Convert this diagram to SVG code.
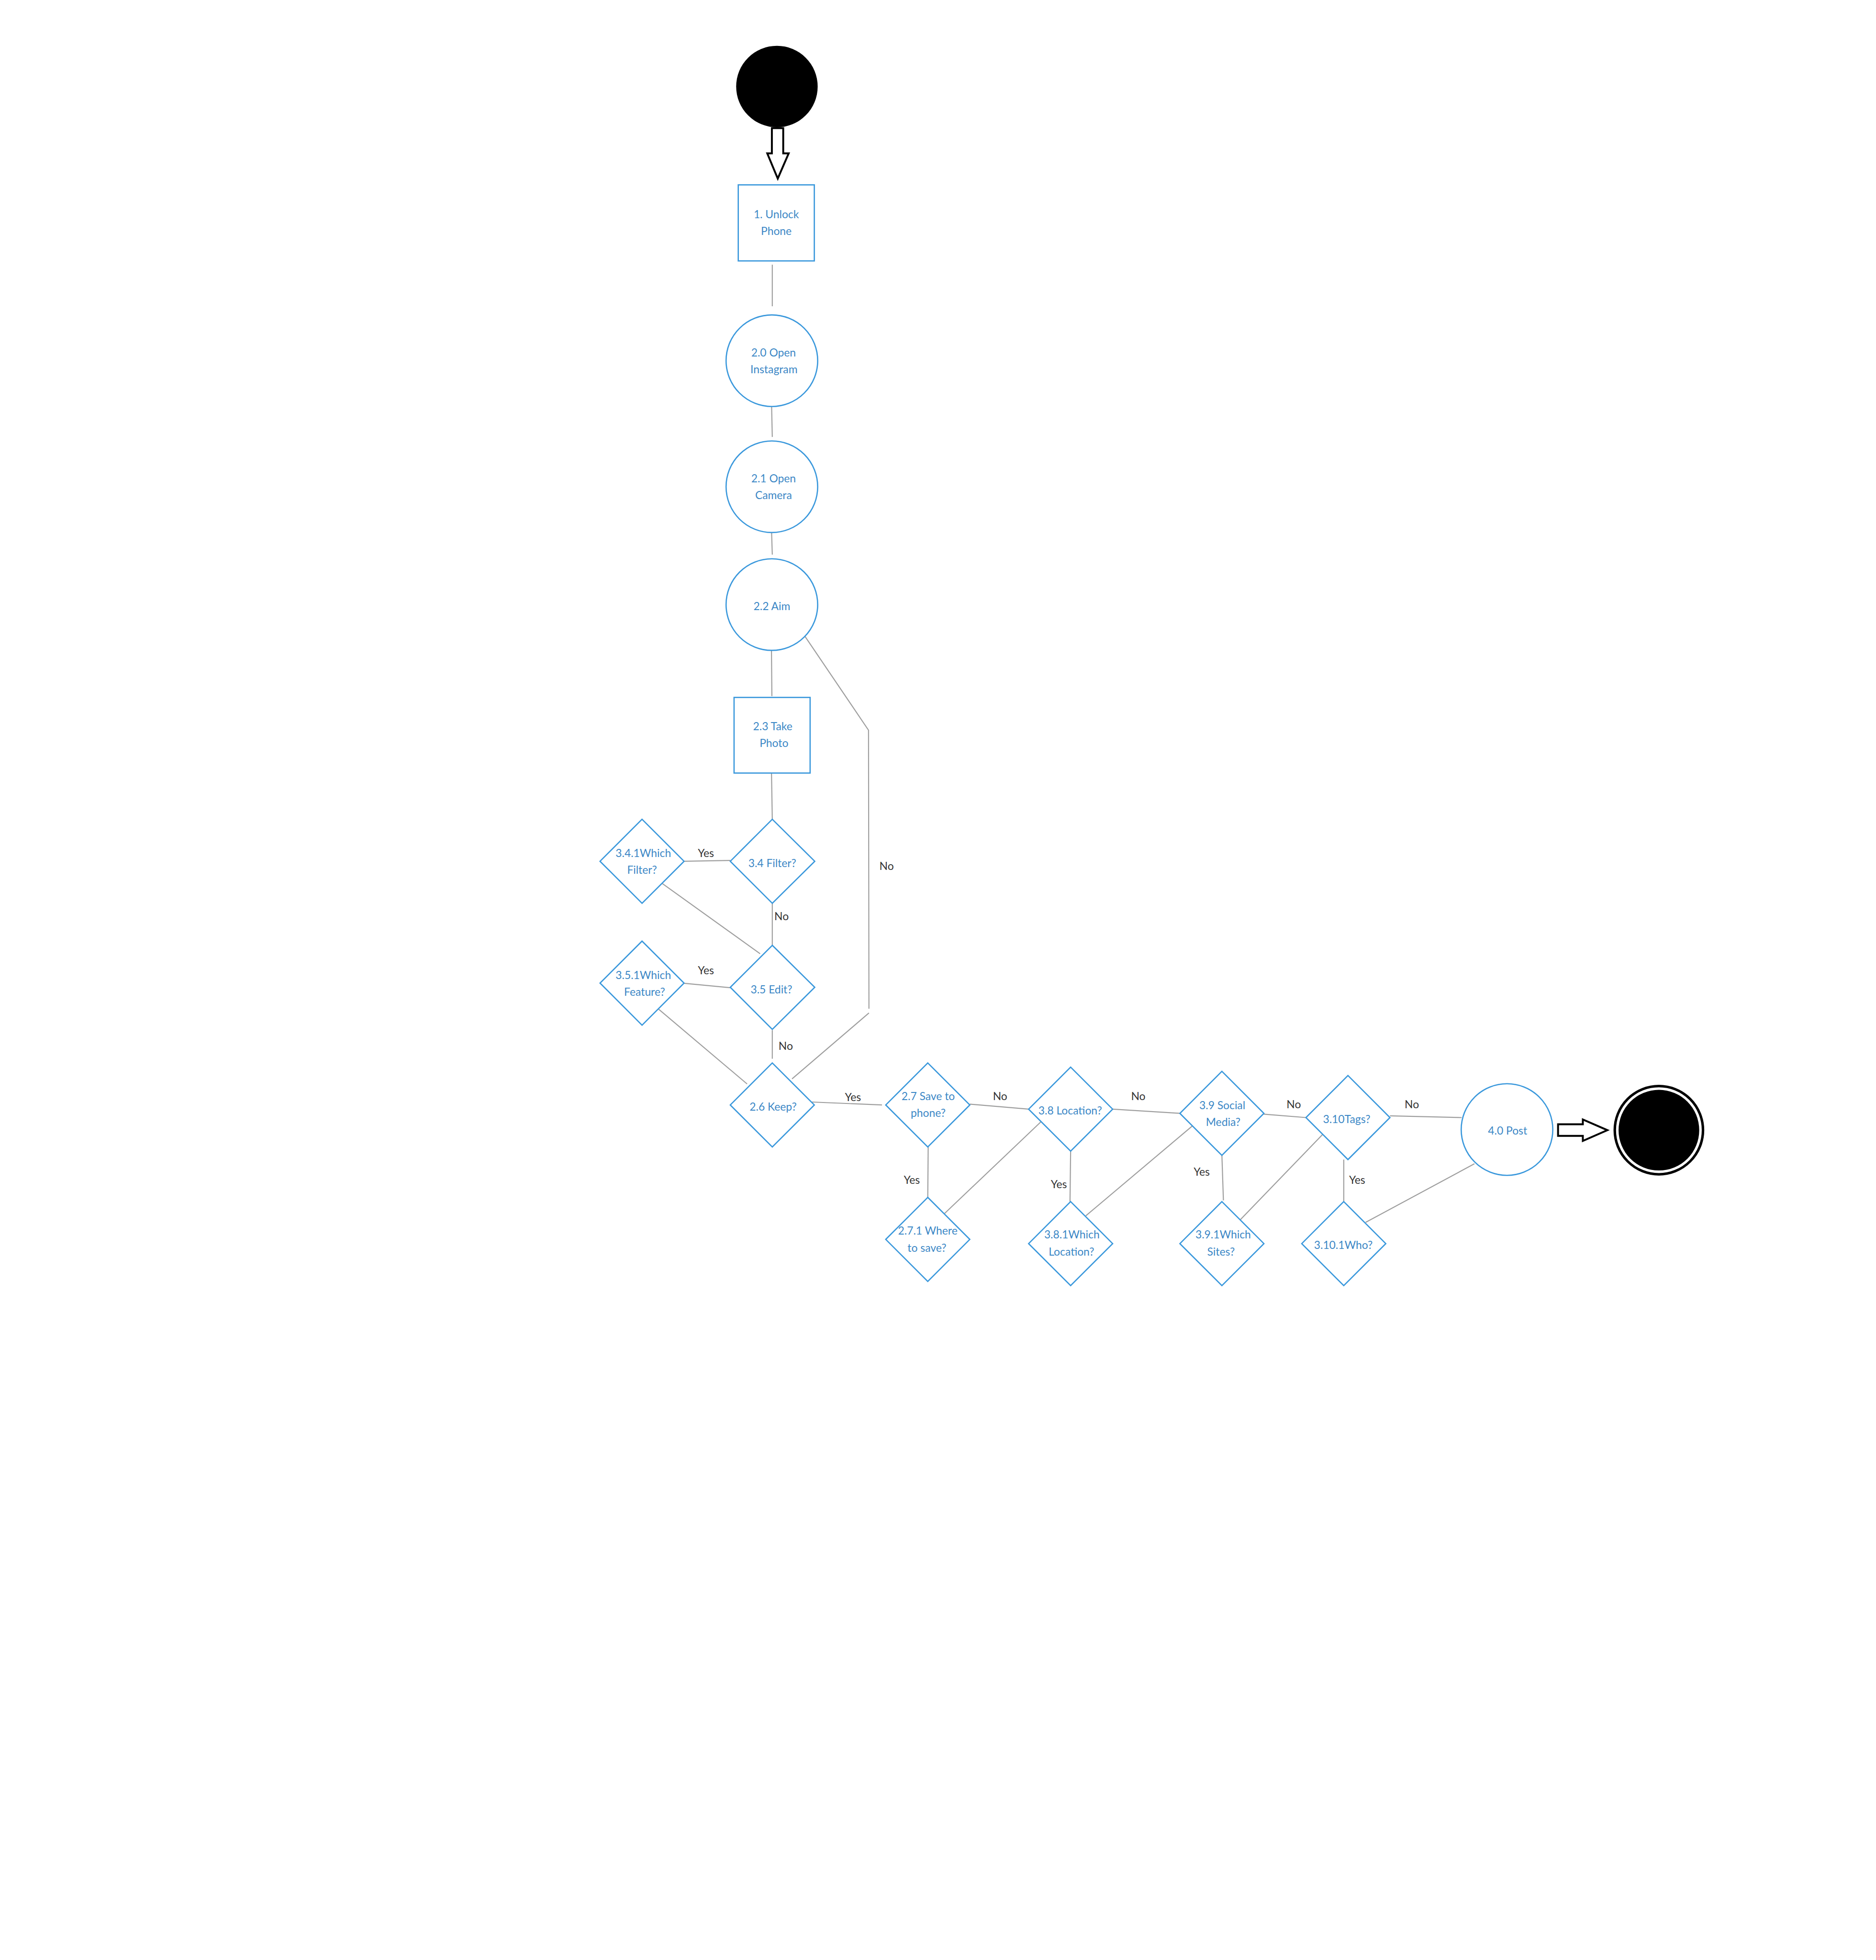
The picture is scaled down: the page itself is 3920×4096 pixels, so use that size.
<svg xmlns="http://www.w3.org/2000/svg" width="3920" height="4096" viewBox="0 0 3920 4096">
<style>
.n{fill:#fff;stroke:#3a98dc;stroke-width:3}
.t{font-family:Lato,"Open Sans","Liberation Sans",sans-serif;font-size:26px;fill:#3b87c6;text-anchor:middle}
.c{fill:none;stroke:#9e9e9e;stroke-width:2.5}
.l{font-family:Lato,"Open Sans","Liberation Sans",sans-serif;font-size:26px;fill:#333;text-anchor:middle}
.b{fill:#000}
.a{fill:#fff;stroke:#000;stroke-width:4.5;stroke-linejoin:miter}
</style>
<rect width="3920" height="4096" fill="#fff"/>
<g transform="scale(0.878)">
<g id="connectors">
<path class="c" d="M1838,630 L1838,729"/>
<path class="c" d="M1836,952 L1838,1040"/>
<path class="c" d="M1836,1258 L1838,1320"/>
<path class="c" d="M1836,1545 L1837,1657"/>
<path class="c" d="M1910,1506 L2067,1738 L2068,2401"/>
<path class="c" d="M2068,2411 L1885,2568"/>
<text class="l" x="2110" y="2071">No</text>
<path class="c" d="M1836,1835 L1838,1950"/>
<path class="c" d="M1628,2050 L1738,2048"/>
<text class="l" x="1680" y="2040">Yes</text>
<path class="c" d="M1575,2102 L1809,2270"/>
<path class="c" d="M1838,2150 L1838,2250"/>
<text class="l" x="1860" y="2190">No</text>
<path class="c" d="M1628,2340.5 L1738,2351"/>
<text class="l" x="1680" y="2319">Yes</text>
<path class="c" d="M1565,2400 L1778,2580"/>
<path class="c" d="M1838,2452 L1838,2520"/>
<text class="l" x="1870" y="2499">No</text>
<path class="c" d="M1932,2623 L2099,2630"/>
<text class="l" x="2030" y="2621">Yes</text>
<path class="c" d="M2308,2628 L2448,2640"/>
<text class="l" x="2380" y="2619">No</text>
<path class="c" d="M2209,2730 L2208,2850"/>
<text class="l" x="2170" y="2818">Yes</text>
<path class="c" d="M2244,2892 L2478,2669.5"/>
<path class="c" d="M2648,2640 L2808,2650"/>
<text class="l" x="2709" y="2619">No</text>
<path class="c" d="M2548,2739 L2546.5,2860"/>
<text class="l" x="2520" y="2828">Yes</text>
<path class="c" d="M2584,2894 L2837.5,2680"/>
<path class="c" d="M2908,2749.5 L2911.6,2857"/>
<text class="l" x="2860" y="2798">Yes</text>
<path class="c" d="M3007.6,2652 L3108.5,2660"/>
<text class="l" x="3079" y="2638">No</text>
<path class="c" d="M2951,2904 L3148,2700"/>
<path class="c" d="M3198,2760 L3198,2860"/>
<text class="l" x="3230" y="2818">Yes</text>
<path class="c" d="M3308,2656 L3478.6,2660"/>
<text class="l" x="3360" y="2638">No</text>
<path class="c" d="M3250,2909.5 L3509,2770"/>
<polygon class="a" points="1837,305 1864,305 1864,365 1877,365 1851,425 1826,365 1837,365"/>
<polygon class="a" points="3708,2676 3767,2676 3767,2664.5 3825.5,2690 3767,2715.5 3767,2703.5 3708,2703.5"/>
</g>
<g id="start"><circle class="b" cx="1849" cy="206" r="97"/></g>
<g id="n1"><rect class="n" x="1757" y="440" width="181" height="181"/><text class="t" x="1847.5" y="519">1. Unlock</text><text class="t" x="1847.5" y="559">Phone</text></g>
<g id="n20"><circle class="n" cx="1837" cy="858.5" r="109"/><text class="t" x="1841" y="848">2.0 Open</text><text class="t" x="1842" y="888">Instagram</text></g>
<g id="n21"><circle class="n" cx="1837" cy="1158.5" r="109"/><text class="t" x="1841" y="1148">2.1 Open</text><text class="t" x="1841" y="1188">Camera</text></g>
<g id="n22"><circle class="n" cx="1837" cy="1439" r="109"/><text class="t" x="1837" y="1452">2.2 Aim</text></g>
<g id="n23"><rect class="n" x="1747" y="1660" width="181" height="180"/><text class="t" x="1839" y="1738">2.3 Take</text><text class="t" x="1842" y="1778">Photo</text></g>
<g id="n34"><polygon class="n" points="1838,1950 1939,2050 1838,2150 1738,2050"/><text class="t" x="1838" y="2064">3.4 Filter?</text></g>
<g id="n341"><polygon class="n" points="1528,1950 1628,2050 1528,2150 1428,2050"/><text class="t" x="1531" y="2040">3.4.1Which</text><text class="t" x="1528" y="2080">Filter?</text></g>
<g id="n35"><polygon class="n" points="1838,2250 1939,2350 1838,2450 1738,2350"/><text class="t" x="1836" y="2365">3.5 Edit?</text></g>
<g id="n351"><polygon class="n" points="1528,2240 1628,2340 1528,2440 1428,2340"/><text class="t" x="1531" y="2330">3.5.1Which</text><text class="t" x="1534" y="2370">Feature?</text></g>
<g id="n26"><polygon class="n" points="1838,2530 1938,2630 1838,2730 1738,2630"/><text class="t" x="1840" y="2643">2.6 Keep?</text></g>
<g id="n27"><polygon class="n" points="2208,2530 2308,2630 2208,2730 2108,2630"/><text class="t" x="2209" y="2618">2.7 Save to</text><text class="t" x="2209" y="2658">phone?</text></g>
<g id="n271"><polygon class="n" points="2208,2850 2308,2950 2208,3050 2108,2950"/><text class="t" x="2208" y="2939">2.7.1 Where</text><text class="t" x="2206" y="2979">to save?</text></g>
<g id="n38"><polygon class="n" points="2548,2540 2648,2640 2548,2740 2448,2640"/><text class="t" x="2547" y="2653">3.8 Location?</text></g>
<g id="n381"><polygon class="n" points="2548,2860 2648,2960 2548,3060 2448,2960"/><text class="t" x="2551" y="2948">3.8.1Which</text><text class="t" x="2550" y="2989">Location?</text></g>
<g id="n39"><polygon class="n" points="2908,2550 3008,2650 2908,2750 2808,2650"/><text class="t" x="2909" y="2640">3.9 Social</text><text class="t" x="2911" y="2680">Media?</text></g>
<g id="n391"><polygon class="n" points="2908,2860 3008,2960 2908,3060 2808,2960"/><text class="t" x="2911" y="2948">3.9.1Which</text><text class="t" x="2906" y="2989">Sites?</text></g>
<g id="n310"><polygon class="n" points="3208,2560 3308,2660 3208,2760 3108,2660"/><text class="t" x="3205" y="2673">3.10Tags?</text></g>
<g id="n3101"><polygon class="n" points="3198,2860 3298,2960 3198,3060 3098,2960"/><text class="t" x="3197" y="2973">3.10.1Who?</text></g>
<g id="n40"><circle class="n" cx="3586.5" cy="2688.5" r="109"/><text class="t" x="3588" y="2701">4.0 Post</text></g>
<g id="end"><circle cx="3948" cy="2690" r="105" fill="#fff" stroke="#000" stroke-width="6"/><circle class="b" cx="3948" cy="2690" r="96"/></g>
</g>
</svg>
